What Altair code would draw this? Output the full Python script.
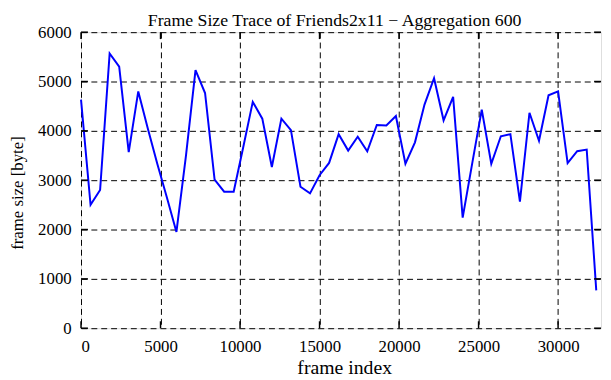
import altair as alt
import pandas as pd

frame_index = [0, 600, 1200, 1800, 2400, 3000, 3600, 4200, 4800, 5400,
               6000, 6600, 7200, 7800, 8400, 9000, 9600, 10200, 10800, 11400,
               12000, 12600, 13200, 13800, 14400, 15000, 15600, 16200, 16800, 17400,
               18000, 18600, 19200, 19800, 20400, 21000, 21600, 22200, 22800, 23400,
               24000, 24600, 25200, 25800, 26400, 27000, 27600, 28200, 28800, 29400,
               30000, 30600, 31200, 31800, 32400]
frame_size = [4633, 2500, 2800, 5567, 5300, 3567, 4800, 4050, 3330, 2650,
              1950, 3500, 5233, 4767, 3013, 2767, 2767, 3667, 4587, 4247,
              3267, 4247, 4013, 2867, 2733, 3100, 3350, 3933, 3600, 3880,
              3587, 4120, 4107, 4300, 3333, 3767, 4533, 5067, 4213, 4690,
              2240, 3340, 4430, 3333, 3890, 3933, 2567, 4367, 3800, 4720,
              4800, 3347, 3587, 3620, 767]

x_ticks = [0, 5000, 10000, 15000, 20000, 25000, 30000]
y_ticks = [0, 1000, 2000, 3000, 4000, 5000, 6000]
x_max = 32700
y_max = 6000

title_text = "Frame Size Trace of Friends2x11 \u2212 Aggregation 600"
x_title = "frame index"
y_title = "frame size [byte]"

FONT = "Liberation Serif"
W, H = 527, 300

df = pd.DataFrame({"frame": frame_index, "size": frame_size})
xt = pd.DataFrame({"v": x_ticks})
yt = pd.DataFrame({"v": y_ticks})

xscale = alt.Scale(domain=[0, x_max], nice=False, zero=False)
yscale = alt.Scale(domain=[0, y_max], nice=False)

common_axis = dict(format="d", grid=True, gridDash=[6, 4], gridColor="black",
                   gridWidth=1, gridOpacity=1, domain=False, ticks=False, tickSize=0,
                   labelFont=FONT, labelFontSize=17, labelColor="black",
                   titleFont=FONT, titleFontWeight="normal", titleColor="black")

line = alt.Chart(df).mark_line(color="#0000ff", strokeWidth=2).encode(
    x=alt.X("frame:Q", scale=xscale,
            axis=alt.Axis(values=x_ticks, title=x_title, labelPadding=11,
                          titleFontSize=20, titleX=266.7, titleY=29.7,
                          titleBaseline="top", titleAlign="center", **common_axis)),
    y=alt.Y("size:Q", scale=yscale,
            axis=alt.Axis(values=y_ticks, title=y_title, labelPadding=10,
                          titleFontSize=17, titleX=-55, titleY=162.5,
                          titleBaseline="bottom", titleAlign="center", **common_axis)),
)

tick_len = 7
bottom_ticks = alt.Chart(xt).mark_rule(color="black", strokeWidth=1.5).encode(
    x=alt.X("v:Q", scale=xscale), y=alt.value(H), y2=alt.value(H - tick_len))
top_ticks = alt.Chart(xt).mark_rule(color="black", strokeWidth=1.5).encode(
    x=alt.X("v:Q", scale=xscale), y=alt.value(0), y2=alt.value(tick_len))
left_ticks = alt.Chart(yt).mark_rule(color="black", strokeWidth=1.5).encode(
    y=alt.Y("v:Q", scale=yscale), x=alt.value(0), x2=alt.value(tick_len))
right_ticks = alt.Chart(yt).mark_rule(color="black", strokeWidth=1.5).encode(
    y=alt.Y("v:Q", scale=yscale), x=alt.value(W), x2=alt.value(W - tick_len))

chart = alt.layer(line, bottom_ticks, top_ticks, left_ticks, right_ticks).properties(
    width=W, height=H,
    title=alt.Title(title_text, font=FONT, fontSize=18, fontWeight="normal",
                    color="black", anchor="middle", frame="group", offset=0,
                    dx=-6.5, dy=6.8),
    autosize=alt.AutoSizeParams(type="none"),
    padding={"left": 74, "top": 22, "right": 2, "bottom": 50},
).configure_view(stroke="black", strokeWidth=2).configure(background="white")

chart.save("out.html", embed_options={"renderer": "svg", "actions": False})
